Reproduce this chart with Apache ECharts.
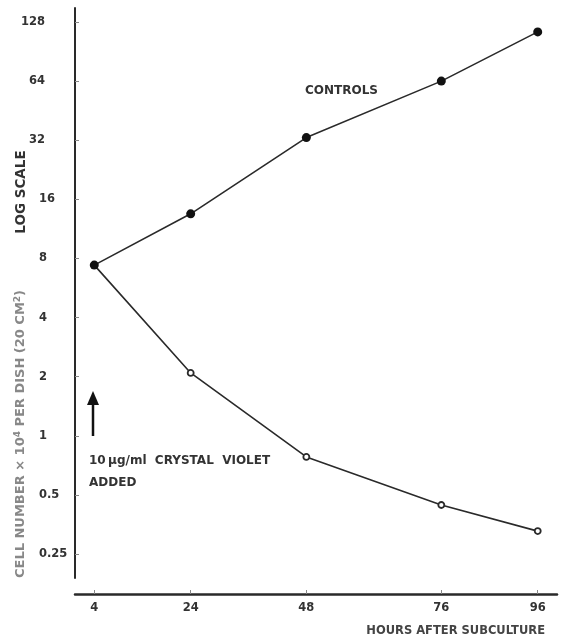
<!DOCTYPE html>
<html>
<head>
<meta charset="utf-8">
<script src="https://cdn.jsdelivr.net/npm/echarts@6/dist/echarts.min.js"></script>
<style>
html,body{margin:0;padding:0;background:#fff;}
#chart{width:561px;height:642px;}
</style>
</head>
<body>
<div id="chart"></div>
<script>
const hours = [4, 24, 48, 76, 96];
const controls = [7.4, 13.5, 33, 64, 114];
const crystalViolet = [7.4, 2.09, 0.78, 0.444, 0.327];
const xTicks = [4, 24, 48, 76, 96];
const yTicksUpper = [32, 64, 128];
const yTicksLower = [0.25, 0.5, 1, 2, 4, 8, 16];
const yTicksAll = [0.25, 0.5, 1, 2, 4, 8, 16, 32, 64, 128];

const FONT = '"DejaVu Sans"';
const ink = '#2a2a2a';

const chart = echarts.init(document.getElementById('chart'), null, {renderer: 'canvas'});

const yMin = Math.pow(2, -2.406);
const yMax = Math.pow(2, 7.237);

chart.setOption({
  animation: false,
  backgroundColor: '#fff',
  grid: {left: 75, right: 4, top: 8, bottom: 64, containLabel: false},
  xAxis: {
    type: 'value', min: 0, max: 100, offset: 16,
    axisLine: {show: true, lineStyle: {color: ink, width: 2.5}},
    axisTick: {show: true, inside: true, length: 4, lineStyle: {color: '#888', width: 1}, customValues: xTicks},
    axisLabel: {show: true, customValues: xTicks, margin: 8, color: '#333', fontFamily: FONT, fontWeight: 'bold', fontSize: 11.5},
    splitLine: {show: false}
  },
  yAxis: [{
    type: 'log', logBase: 2, min: yMin, max: yMax,
    axisLine: {show: true, lineStyle: {color: ink, width: 2}},
    axisTick: {show: true, inside: true, length: 4, lineStyle: {color: '#888', width: 1}, customValues: yTicksAll},
    axisLabel: {show: true, customValues: yTicksUpper, margin: 30, align: 'right', color: '#333', fontFamily: FONT, fontWeight: 'bold', fontSize: 11.5},
    splitLine: {show: false}
  }, {
    type: 'log', logBase: 2, min: yMin, max: yMax, position: 'left',
    axisLine: {show: false},
    axisTick: {show: false},
    axisLabel: {show: true, customValues: yTicksLower, margin: 36, align: 'left', color: '#333', fontFamily: FONT, fontWeight: 'bold', fontSize: 11.5},
    splitLine: {show: false}
  }],
  series: [{
    name: 'Crystal violet', type: 'line',
    data: hours.map((h, i) => [h, crystalViolet[i]]),
    symbol: 'circle', symbolSize: 6,
    itemStyle: {color: '#fff', borderColor: ink, borderWidth: 1.8},
    lineStyle: {color: ink, width: 1.6},
    z: 2
  }, {
    name: 'Controls', type: 'line',
    data: hours.map((h, i) => [h, controls[i]]),
    symbol: 'circle', symbolSize: 9,
    itemStyle: {color: '#111', borderColor: '#111', borderWidth: 0},
    lineStyle: {color: ink, width: 1.6},
    z: 3
  }],
  graphic: [
    {type: 'text', left: 305, top: 85, style: {text: 'CONTROLS', fill: '#333', font: 'bold 12px ' + FONT}},
    {type: 'text', left: 89, top: 455, style: {text: '10\u2009\u03bcg/ml  CRYSTAL  VIOLET', fill: '#333', font: 'bold 12px ' + FONT}},
    {type: 'text', left: 89, top: 477, style: {text: 'ADDED', fill: '#333', font: 'bold 12px ' + FONT}},
    {type: 'line', shape: {x1: 93, y1: 436, x2: 93, y2: 400}, style: {stroke: '#111', lineWidth: 2.5}},
    {type: 'polygon', shape: {points: [[87, 405], [99, 405], [93, 391]]}, style: {fill: '#111'}},
    {type: 'text', right: 16, top: 625, style: {text: 'HOURS AFTER SUBCULTURE', fill: '#444', font: 'bold 11.5px ' + FONT}},
    {type: 'text', x: 21, y: 192, rotation: Math.PI / 2,
      style: {text: 'LOG SCALE', fill: '#333', font: 'bold 13.5px ' + FONT, align: 'center', verticalAlign: 'middle'}},
    {type: 'text', x: 21, y: 434, rotation: Math.PI / 2,
      style: {
        text: '{t|CELL NUMBER \u00d7 10}{s|4}{t| PER DISH (20 CM}{s|2}{t|)}',
        align: 'center', verticalAlign: 'middle',
        rich: {
          t: {fill: '#888', font: 'bold 13px ' + FONT},
          s: {fill: '#888', font: 'bold 9px ' + FONT, verticalAlign: 'top', padding: [0, 0, 7, 0]}
        }
      }}
  ]
});
</script>
</body>
</html>
